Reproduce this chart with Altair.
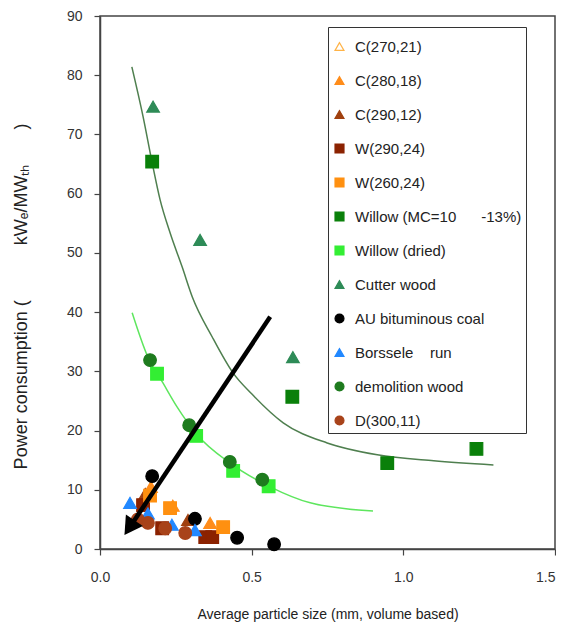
import altair as alt
import pandas as pd

NB = "\u00a0"

# ---- series names (legend order) ----
series_names = [
    "C(270,21)", "C(280,18)", "C(290,12)", "W(290,24)", "W(260,24)",
    "Willow (MC=10" + NB * 6 + "-13%)", "Willow (dried)", "Cutter wood",
    "AU bituminous coal", "Borssele" + NB * 4 + "run", "demolition wood", "D(300,11)",
]
series_fill = ["#ffffff", "#ff8c1a", "#a0400f", "#8b2200", "#ff9010", "#0a800a",
               "#33ee33", "#2e8b57", "#000000", "#2288ff", "#1e7b1e", "#a8431a"]
series_stroke = ["#ffb347", "#ff8c1a", "#a0400f", "#8b2200", "#ff9010", "#0a800a",
                 "#33ee33", "#2e8b57", "#000000", "#2288ff", "#1e7b1e", "#a8431a"]
series_shape = ["triangle-up", "triangle-up", "triangle-up", "square", "square", "square",
                "square", "triangle-up", "circle", "triangle-up", "circle", "circle"]

# ---- point values ----
c270_x, c270_y = [], []
c280_x, c280_y = [0.168, 0.24, 0.363], [10.5, 7.3, 4.4]
c290_x, c290_y = [0.149, 0.29], [9.3, 4.9]
w290_x, w290_y = [0.142, 0.205, 0.347, 0.370], [7.4, 3.5, 2.0, 2.0]
w260_x, w260_y = [0.165, 0.231, 0.406], [9.0, 6.9, 3.7]
willow_x, willow_y = [0.172, 0.634, 0.947, 1.241], [65.4, 25.7, 14.5, 16.9]
dried_x, dried_y = [0.188, 0.317, 0.439, 0.556], [29.6, 19.1, 13.2, 10.6]
cutter_x, cutter_y = [0.175, 0.33, 0.636], [74.7, 52.2, 32.4]
coal_x, coal_y = [0.172, 0.313, 0.452, 0.574], [12.3, 5.1, 1.9, 0.8]
bors_x, bors_y = [0.099, 0.158, 0.237, 0.313], [7.8, 6.0, 4.1, 3.2]
demo_x, demo_y = [0.165, 0.294, 0.428, 0.535], [31.9, 20.9, 14.7, 11.7]
d300_x, d300_y = [0.125, 0.158, 0.215, 0.281], [5.0, 4.4, 3.5, 2.7]

series_x = [c270_x, c280_x, c290_x, w290_x, w260_x, willow_x, dried_x, cutter_x,
            coal_x, bors_x, demo_x, d300_x]
series_y = [c270_y, c280_y, c290_y, w290_y, w260_y, willow_y, dried_y, cutter_y,
            coal_y, bors_y, demo_y, d300_y]

# ---- fitted curves ----
dark_curve_x = [0.105, 0.142, 0.172, 0.198, 0.231, 0.271, 0.304, 0.37, 0.439, 0.50,
                0.604, 0.749, 0.914, 1.1, 1.297]
dark_curve_y = [81.4, 73.0, 65.2, 59.0, 53.4, 47.6, 42.6, 35.8, 29.7, 26.2,
                21.3, 17.9, 15.9, 14.9, 14.2]
light_curve_x = [0.106, 0.158, 0.208, 0.254, 0.32, 0.429, 0.561, 0.693, 0.90]
light_curve_y = [39.9, 32.4, 28.0, 24.0, 19.3, 14.5, 10.5, 7.8, 6.4]

# ---- arrow ----
arrow_x = [0.561, 0.097]
arrow_y = [39.2, 3.6]
arrow_head_x = [0.097]
arrow_head_y = [3.6]

rows = []
for name, xs, ys in zip(series_names, series_x, series_y):
    for xv, yv in zip(xs, ys):
        rows.append({"series": name, "x": xv, "y": yv})
pts = pd.DataFrame(rows)

dark_df = pd.DataFrame({"x": dark_curve_x, "y": dark_curve_y})
light_df = pd.DataFrame({"x": light_curve_x, "y": light_curve_y})
arrow_df = pd.DataFrame({"x": arrow_x, "y": arrow_y})
head_df = pd.DataFrame({"x": arrow_head_x, "y": arrow_head_y})

FONT = "Liberation Sans"

xscale = alt.Scale(domain=[0, 1.5], nice=False)
yscale = alt.Scale(domain=[0, 90], nice=False)

xenc = alt.X("x:Q", scale=xscale, title="Average particle size (mm, volume based)",
             axis=alt.Axis(values=[0, 0.5, 1.0, 1.5], format=".1f", grid=False, labelFlush=False,
                           labelAlign={"condition": {"test": "datum.value >= 1.5", "value": "right"},
                                       "value": "center"},
                           tickSize=6, labelPadding=15, titlePadding=23))
yenc = alt.Y("y:Q", scale=yscale,
             title="Power consumption (" + NB * 11 + "kW\u2091/MW\u209c\u2095" + NB * 7 + ")",
             axis=alt.Axis(values=list(range(0, 100, 10)), grid=False,
                           tickSize=6, labelPadding=12, titlePadding=36,
                           titleFontSize=18, titleY=280))

dark_line = alt.Chart(dark_df).mark_line(color="#4f7f4f", strokeWidth=1.5, interpolate="monotone").encode(
    x=xenc, y=yenc)
light_line = alt.Chart(light_df).mark_line(color="#5ee65e", strokeWidth=1.5, interpolate="monotone").encode(
    x=alt.X("x:Q", scale=xscale), y=alt.Y("y:Q", scale=yscale))

leg = alt.Legend(title=NB, titleFontSize=5, titlePadding=3, orient="none", legendX=228, legendY=11,
                 strokeColor="#333", fillColor="#ffffff", padding=4, rowPadding=18,
                 labelFontSize=15, labelFont=FONT, labelColor="#222",
                 symbolSize=80, labelOffset=8, symbolStrokeWidth=1.2, labelLimit=400)

points = alt.Chart(pts).mark_point(size=160, opacity=1, fillOpacity=1, strokeWidth=1.2).encode(
    x=alt.X("x:Q", scale=xscale),
    y=alt.Y("y:Q", scale=yscale),
    fill=alt.Fill("series:N", scale=alt.Scale(domain=series_names, range=series_fill), legend=leg),
    stroke=alt.Stroke("series:N", scale=alt.Scale(domain=series_names, range=series_stroke), legend=leg),
    shape=alt.Shape("series:N", scale=alt.Scale(domain=series_names, range=series_shape), legend=leg),
)

arrow_line = alt.Chart(arrow_df).mark_line(color="#000000", strokeWidth=4.5).encode(
    x=alt.X("x:Q", scale=xscale), y=alt.Y("y:Q", scale=yscale))
arrow_head = alt.Chart(head_df).mark_point(shape="triangle-up", filled=True, color="#000000",
                                           size=420, angle=214, opacity=1).encode(
    x=alt.X("x:Q", scale=xscale), y=alt.Y("y:Q", scale=yscale))

chart = alt.layer(dark_line, light_line, points, arrow_line, arrow_head).properties(
    width=455, height=533,
    autosize=alt.AutoSizeParams(type="none"),
    padding={"left": 92, "top": 8, "right": 1, "bottom": 74},
    background="#ffffff",
).configure_view(
    stroke="#444", strokeWidth=1.5
).configure_axis(
    domainColor="#444", domainWidth=1.5, tickColor="#444", tickWidth=1.2,
    labelFont=FONT, labelFontSize=14, labelColor="#333",
    titleFont=FONT, titleFontSize=14, titleColor="#222", titleFontWeight="normal",
)

chart.save("out.html", embed_options={"renderer": "svg", "actions": False})
